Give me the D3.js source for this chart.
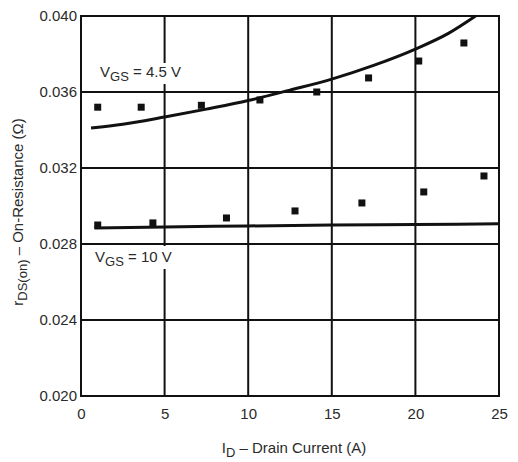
<!DOCTYPE html>
<html><head><meta charset="utf-8">
<script src="https://cdn.jsdelivr.net/npm/d3@7"></script>
<style>body{margin:0;background:#fff}</style>
</head><body><svg id="c" width="518" height="462"></svg>
<script>
const xTicks=[0,5,10,15,20,25];
const yTicks=[0.020,0.024,0.028,0.032,0.036,0.040];
const pts45X=[1,3.6,7.2,10.7,14.1,17.2,20.2,22.9];
const pts45Y=[0.0352,0.0352,0.0353,0.03558,0.0360,0.03674,0.03763,0.03858];
const pts10X=[1,4.3,8.7,12.8,16.8,20.5,24.1];
const pts10Y=[0.0290,0.02911,0.02937,0.02974,0.03016,0.03074,0.03158];
const curve45X=[0.6,2.5,5,7.5,10,12.5,15,17.5,20,22,23.6];
const curve45Y=[0.0341,0.0343,0.03468,0.0351,0.03555,0.0361,0.03668,0.0374,0.03826,0.0391,0.0400];
const curve10X=[0.8,5,10,15,20,25];
const curve10Y=[0.02884,0.02890,0.02895,0.02900,0.02903,0.02906];

const svg=d3.select("#c");
const L=81,R=499,T=16,B=396;
const x=d3.scaleLinear().domain([0,25]).range([L,R]);
const y=d3.scaleLinear().domain([0.020,0.040]).range([B,T]);
const ink="#111";
const font="Arial, 'Liberation Sans', Helvetica, sans-serif";
const tcol="#2a2a2a";
const fs=15, sfs=13;

// grid
svg.append("g").selectAll("line").data(xTicks.slice(1,-1)).join("line")
  .attr("x1",d=>x(d)).attr("x2",d=>x(d)).attr("y1",T).attr("y2",B)
  .attr("stroke",ink).attr("stroke-width",2);
svg.append("g").selectAll("line").data(yTicks.slice(1,-1)).join("line")
  .attr("y1",d=>y(d)).attr("y2",d=>y(d)).attr("x1",L).attr("x2",R)
  .attr("stroke",ink).attr("stroke-width",2);
svg.append("rect").attr("x",L).attr("y",T).attr("width",R-L).attr("height",B-T)
  .attr("fill","none").attr("stroke",ink).attr("stroke-width",2);

// axes labels
const xa=svg.append("g").attr("transform",`translate(0,${B})`)
  .call(d3.axisBottom(x).tickValues(xTicks).tickSize(0).tickPadding(12));
const ya=svg.append("g").attr("transform",`translate(${L},0)`)
  .call(d3.axisLeft(y).tickValues(yTicks).tickSize(0).tickPadding(4).tickFormat(d3.format(".3f")));
[xa,ya].forEach(a=>{a.select(".domain").remove();
  a.selectAll("text").attr("font-family",font).attr("font-size",fs).attr("fill",tcol);});

// labels with white background
function label(px,py,main,sub,rest,bx,by,bw,bh){
  svg.append("rect").attr("x",bx).attr("y",by).attr("width",bw).attr("height",bh).attr("fill","#fff");
  const t=svg.append("text").attr("x",px).attr("y",py).attr("font-family",font)
    .attr("font-size",fs).attr("fill",tcol);
  t.append("tspan").text(main);
  t.append("tspan").attr("dy",4).attr("font-size",sfs).text(sub);
  t.append("tspan").attr("dy",-4).text(rest);
}
label(100,77,"V","GS"," = 4.5 V",98,63,90,21);
label(95,262,"V","GS"," = 10 V",93,246,88,23);

// curves
const line=d3.line().x(d=>x(d[0])).y(d=>y(d[1])).curve(d3.curveMonotoneX);
svg.append("path").datum(curve45X.map((v,i)=>[v,curve45Y[i]])).attr("d",line)
  .attr("fill","none").attr("stroke",ink).attr("stroke-width",3);
svg.append("path").datum(curve10X.map((v,i)=>[v,curve10Y[i]])).attr("d",line)
  .attr("fill","none").attr("stroke",ink).attr("stroke-width",3);

// markers
const s=7;
svg.append("g").selectAll("rect").data(pts45X.map((v,i)=>[v,pts45Y[i]])).join("rect")
  .attr("x",d=>x(d[0])-s/2).attr("y",d=>y(d[1])-s/2).attr("width",s).attr("height",s).attr("fill",ink);
svg.append("g").selectAll("rect").data(pts10X.map((v,i)=>[v,pts10Y[i]])).join("rect")
  .attr("x",d=>x(d[0])-s/2).attr("y",d=>y(d[1])-s/2).attr("width",s).attr("height",s).attr("fill",ink);

// axis titles
const xt=svg.append("text").attr("x",(L+R)/2+4).attr("y",453).attr("text-anchor","middle")
  .attr("font-family",font).attr("font-size",fs).attr("fill",tcol);
xt.append("tspan").text("I");
xt.append("tspan").attr("dy",4).attr("font-size",sfs).text("D");
xt.append("tspan").attr("dy",-4).text(" – Drain Current (A)");
const yt=svg.append("text").attr("transform",`translate(23,${(T+B)/2+6}) rotate(-90)`).attr("text-anchor","middle")
  .attr("font-family",font).attr("font-size",fs).attr("fill",tcol);
yt.append("tspan").text("r");
yt.append("tspan").attr("dy",4).attr("font-size",sfs).text("DS(on)");
yt.append("tspan").attr("dy",-4).text(" – On-Resistance (Ω)");
</script></body></html>
